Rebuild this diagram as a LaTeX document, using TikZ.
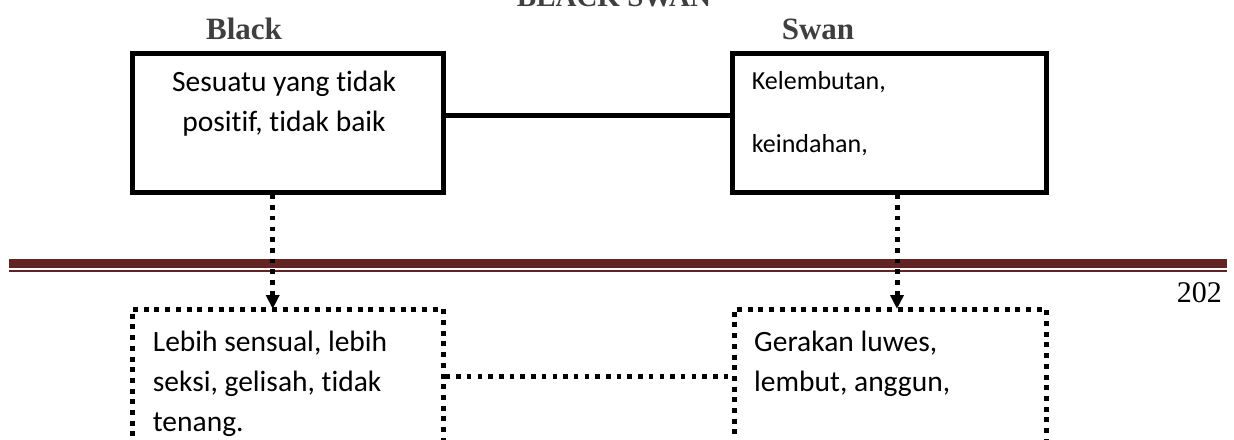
\documentclass[tikz,border=0pt]{standalone}
\usepackage{fontspec}
\usetikzlibrary{arrows.meta}
\newfontfamily\bodyfont[Ligatures=NoCommon]{Carlito}
\newfontfamily\headfont{Liberation Serif}
\definecolor{labelgray}{HTML}{3F3F3F}
\definecolor{rulemaroon}{HTML}{622423}

\begin{document}
\begin{tikzpicture}[x=1pt,y=-1pt,
  solidbox/.style={draw, line width=5pt, minimum height=139pt, inner sep=0pt, anchor=north west},
  dotbox/.style={draw, line width=5pt, dash pattern=on 5pt off 5.7pt, minimum height=240pt, inner sep=0pt, anchor=north west},
  dotlink/.style={line width=5pt, dash pattern=on 4.5pt off 6.2pt},
  solidlink/.style={line width=5pt},
  head/.style={font=\headfont\bfseries\fontsize{31}{31}\selectfont, text=labelgray, inner sep=0pt, anchor=base},
  body/.style={font=\bodyfont\fontsize{29.5}{29.5}\selectfont, inner sep=0pt, anchor=base west},
  bodyc/.style={body, anchor=base},
  smallbody/.style={body, font=\bodyfont\fontsize{26}{26}\selectfont},
  tip/.style={-{Triangle[width=13pt,length=14pt]}, shorten >=-2.5pt},
]
\path[use as bounding box] (0,0) rectangle (1234,439);
\clip (0,0) rectangle (1234,439);
\fill[white] (0,0) rectangle (1234,439);

% page header rule (thick bar over a thin line) and page number
\fill[rulemaroon] (9,259) rectangle (1227,268);
\fill[rulemaroon] (9,270) rectangle (1227,272);
\node[font=\headfont\fontsize{30}{30}\selectfont, inner sep=0pt, anchor=base east] (pagenum) at (1222,302) {202};

% title and column headings
\node[head, font=\headfont\bfseries\fontsize{29}{29}\selectfont] (title) at (614,6) {BLACK SWAN};
\node[head] (blacklabel) at (244,39) {Black};
\node[head] (swanlabel) at (818,39) {Swan};

% upper solid boxes
\node[solidbox, minimum width=311pt] (blackbox) at (129.5,50.5) {};
\node[solidbox, minimum width=314pt] (swanbox) at (729.5,50.5) {};

\node[bodyc] (b1) at (284,91.7) {Sesuatu yang tidak};
\node[bodyc] (b2) at (284,131.7) {positif, tidak baik};
\node[smallbody] (s1) at (751.7,89.5) {Kelembutan,};
\node[smallbody] (s2) at (751.7,152.7) {keindahan,};

% lower dotted boxes (run past the bottom edge)
\node[dotbox, minimum width=311pt] (blackdot) at (129.5,306.5) {};
\node[dotbox, minimum width=312pt] (swandot) at (731.5,306.5) {};

\node[body] (l1) at (152.7,351.7) {Lebih sensual, lebih};
\node[body] (l2) at (152.7,391.7) {seksi, gelisah, tidak};
\node[body] (l3) at (152.7,431.7) {tenang.};
\node[body] (g1) at (754,351.7) {Gerakan luwes,};
\node[body] (g2) at (754,391.7) {lembut, anggun,};

% connectors
\coordinate (toprow) at (0,115);
\coordinate (lowrow) at (0,376);
\coordinate (bcol) at (272.7,0);
\coordinate (scol) at (897,0);

\draw[solidlink] (blackbox.east |- toprow) -- (swanbox.west |- toprow);
\draw[dotlink] (blackdot.east |- lowrow) -- (swandot.west |- lowrow);
\draw[dotlink, tip] (blackbox.south -| bcol) -- (blackdot.north -| bcol);
\draw[dotlink, tip] (swanbox.south -| scol) -- (swandot.north -| scol);
\end{tikzpicture}
\end{document}
